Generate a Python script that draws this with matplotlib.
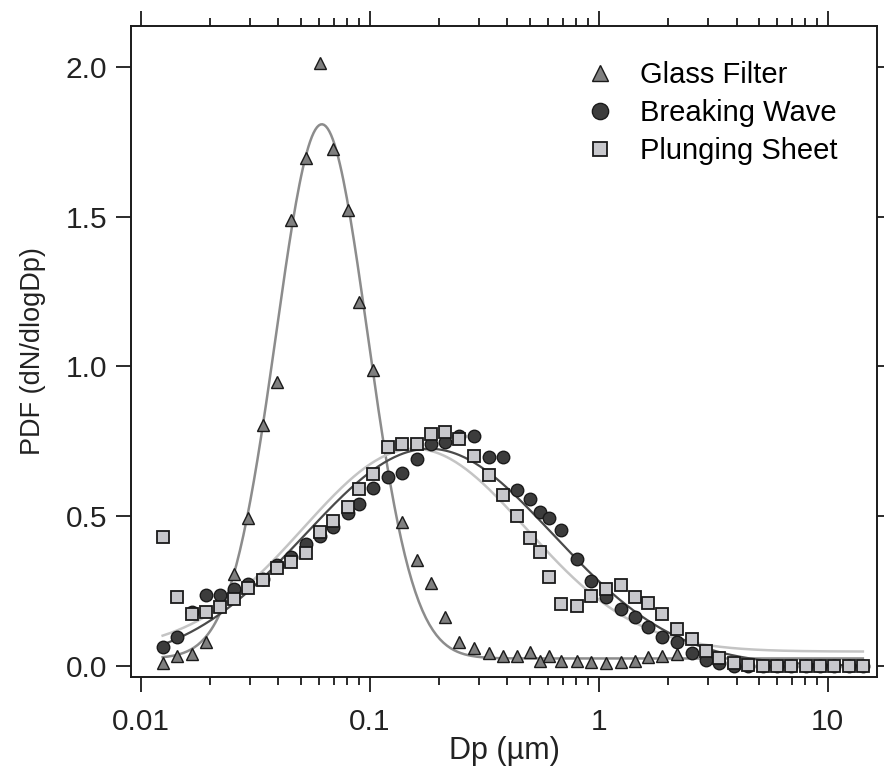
import numpy as np
import matplotlib
matplotlib.use("Agg")
import matplotlib.pyplot as plt
from matplotlib.ticker import LogLocator, NullFormatter, FixedLocator

plt.rcParams['font.family'] = ['Liberation Sans', 'DejaVu Sans']

# diameter bins (um), shared by the three measurements
dp = [0.01248, 0.01445, 0.01671, 0.01930, 0.02222, 0.02558, 0.02954, 0.03415,
      0.03933, 0.04528, 0.05265, 0.06081, 0.06952, 0.08020, 0.0896, 0.1037,
      0.1198, 0.1389, 0.1609, 0.1854, 0.2126, 0.2457, 0.2846, 0.3311,
      0.3813, 0.4395, 0.5037, 0.5571, 0.6057, 0.6884, 0.8006, 0.9218,
      1.072, 1.247, 1.436, 1.648, 1.897, 2.207, 2.548, 2.934,
      3.354, 3.901, 4.505, 5.203, 6.008, 6.939, 8.013, 9.255,
      10.69, 12.34, 14.25]

# Glass Filter (no points at bins 4 and 16)
glass_dp = [0.01248, 0.01445, 0.01671, 0.01930, 0.02558, 0.02954, 0.03415,
            0.03933, 0.04528, 0.05265, 0.06081, 0.06952, 0.08020, 0.0896, 0.1037,
            0.1389, 0.1609, 0.1854, 0.2126, 0.2457, 0.2846, 0.3311,
            0.3813, 0.4395, 0.5037, 0.5571, 0.6057, 0.6884, 0.8006, 0.9218,
            1.072, 1.247, 1.436, 1.648, 1.897, 2.207]
glass = [0.009, 0.033, 0.040, 0.079, 0.307, 0.495, 0.804,
         0.949, 1.488, 1.696, 2.014, 1.724, 1.521, 1.216, 0.988,
         0.481, 0.354, 0.277, 0.165, 0.081, 0.059, 0.043,
         0.032, 0.033, 0.045, 0.018, 0.032, 0.017, 0.017, 0.012,
         0.009, 0.014, 0.018, 0.029, 0.033, 0.040]

breaking = [0.064, 0.097, 0.180, 0.237, 0.237, 0.257, 0.274, 0.290,
            0.337, 0.365, 0.407, 0.435, 0.463, 0.509, 0.541, 0.593,
            0.632, 0.645, 0.691, 0.740, 0.746, 0.769, 0.767, 0.697,
            0.697, 0.587, 0.556, 0.513, 0.493, 0.454, 0.356, 0.285,
            0.231, 0.190, 0.165, 0.129, 0.098, 0.079, 0.042, 0.020,
            0.009, 0.000, 0.000, 0.000, 0.000, 0.000, 0.000, 0.000,
            0.000, 0.000, 0.000]

plunging = [0.429, 0.229, 0.174, 0.179, 0.196, 0.224, 0.261, 0.287,
            0.326, 0.348, 0.376, 0.446, 0.484, 0.532, 0.590, 0.641,
            0.732, 0.740, 0.740, 0.773, 0.782, 0.757, 0.702, 0.637,
            0.571, 0.502, 0.428, 0.381, 0.298, 0.207, 0.200, 0.235,
            0.257, 0.270, 0.231, 0.209, 0.174, 0.123, 0.089, 0.051,
            0.026, 0.009, 0.002, 0.001, 0.001, 0.001, 0.001, 0.001,
            0.001, 0.001, 0.001]

# lognormal fits: offset, amplitude, log10 centre, log10 width
fit_glass = [0.025, 1.783, -1.2086, 0.200]
fit_breaking = [0.0, 0.725, -0.74, 0.54]
fit_plunging = [0.048, 0.677, -0.804, 0.4875]

labels = ['Glass Filter', 'Breaking Wave', 'Plunging Sheet']


def lognormal(x, p):
    y0, a, mu, s = p
    return y0 + a * np.exp(-(np.log10(x) - mu) ** 2 / (2 * s ** 2))


fig = plt.figure(figsize=(8.84, 7.69), dpi=100)
ax = fig.add_axes([0.1482, 0.1196, 0.8439, 0.8466])

xf = np.logspace(np.log10(dp[0]), np.log10(dp[-1]), 400)
ax.plot(xf, lognormal(xf, fit_glass), color='#8c8c8c', lw=1.8, zorder=1)
ax.plot(xf, lognormal(xf, fit_plunging), color='#c4c4c4', lw=1.8, zorder=1)
ax.plot(xf, lognormal(xf, fit_breaking), color='#4a4a4a', lw=1.6, zorder=1)

ax.plot(glass_dp, glass, ls='none', marker='^', ms=9, mfc='#7f7f7f',
        mec='#1a1a1a', mew=1.0, label=labels[0], zorder=3)
ax.plot(dp, breaking, ls='none', marker='o', ms=9, mfc='#3c3c3c',
        mec='#1a1a1a', mew=1.0, label=labels[1], zorder=4)
ax.plot(dp, plunging, ls='none', marker='s', ms=8, mfc='#c8c8cc',
        mec='#1a1a1a', mew=1.3, label=labels[2], zorder=5)

ax.set_xscale('log')
ax.set_xlim(0.00908, 16.43)
ax.set_ylim(-0.037, 2.136)

ax.xaxis.set_major_locator(FixedLocator([0.01, 0.1, 1, 10]))
ax.set_xticklabels(['0.01', '0.1', '1', '10'])
ax.xaxis.set_minor_locator(LogLocator(base=10, subs=np.arange(2, 10)))
ax.xaxis.set_minor_formatter(NullFormatter())
ax.set_yticks([0.0, 0.5, 1.0, 1.5, 2.0])
ax.set_yticklabels(['0.0', '0.5', '1.0', '1.5', '2.0'])

ax.tick_params(which='both', direction='out', top=True, right=True,
               labeltop=False, labelright=False, width=1.3, colors='#1a1a1a',
               labelsize=21.5, labelcolor='#222222')
ax.tick_params(which='major', length=11)
ax.tick_params(which='minor', length=5.5)
ax.tick_params(axis='x', which='major', pad=11)
ax.tick_params(axis='y', which='major', pad=6)
for sp in ax.spines.values():
    sp.set_linewidth(1.4)
    sp.set_color('#1a1a1a')

ax.set_xlabel('Dp (\u00b5m)', fontsize=22, color='#222222', labelpad=0)
ax.set_ylabel('PDF (dN/dlogDp)', fontsize=19.5, color='#222222', labelpad=14)

ax.legend(loc='upper right', bbox_to_anchor=(0.975, 0.978), frameon=False,
          fontsize=21, markerscale=1.3, handlelength=1.0, handletextpad=0.9,
          labelspacing=0.35, borderaxespad=0.3)

fig.savefig('out.png', dpi=100)
